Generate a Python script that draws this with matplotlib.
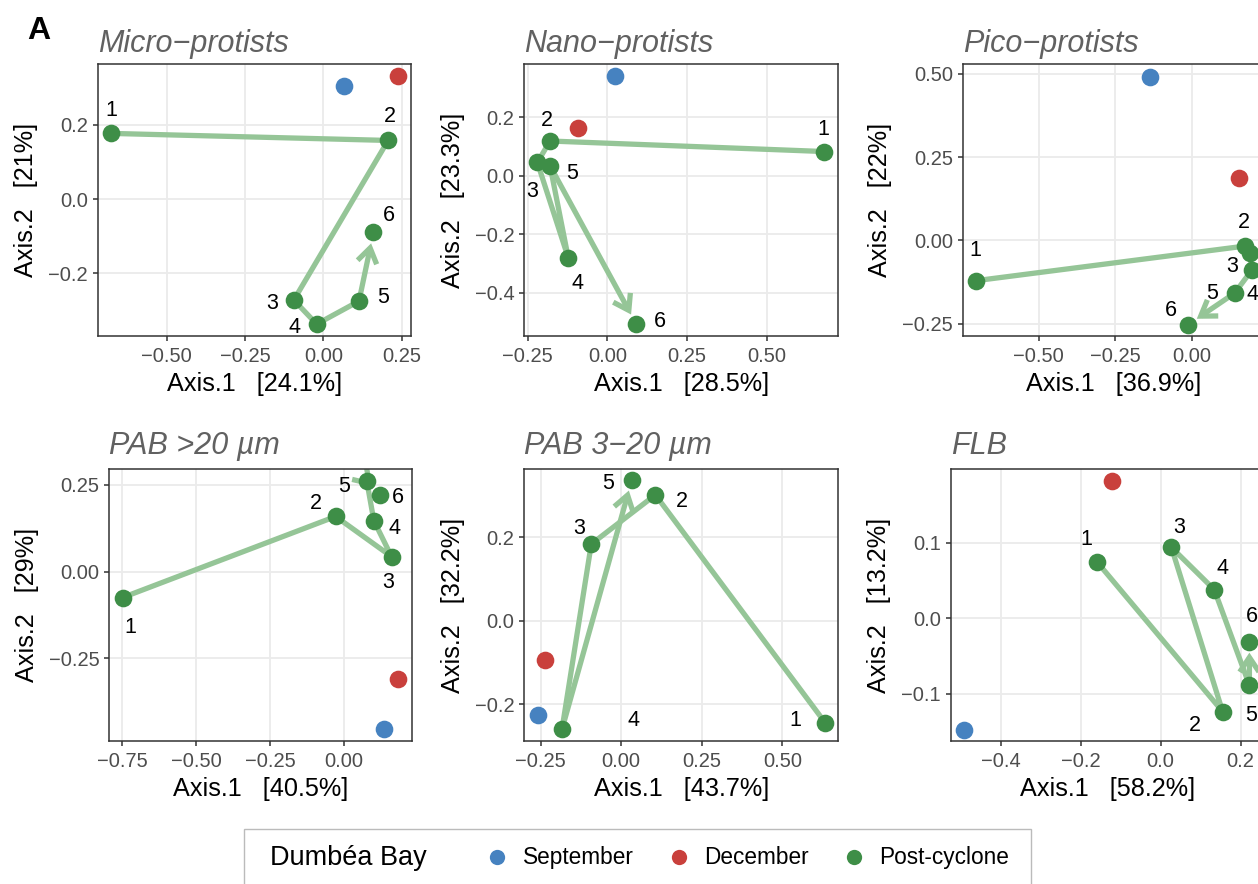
import matplotlib
matplotlib.use('Agg')
import matplotlib.pyplot as plt
from matplotlib.patches import FancyArrowPatch
from matplotlib.lines import Line2D
from matplotlib.offsetbox import HPacker, DrawingArea

plt.rcParams['font.family'] = ['Liberation Sans', 'DejaVu Sans']

# ---------------- data ----------------
titles = ["Micro\u2212protists", "Nano\u2212protists", "Pico\u2212protists",
          "PAB >20 \u00b5m", "PAB 3\u221220 \u00b5m", "FLB"]
axis1_pct = ["24.1%", "28.5%", "36.9%", "40.5%", "43.7%", "58.2%"]
axis2_pct = ["21%", "23.3%", "22%", "29%", "32.2%", "13.2%"]

# Post-cyclone trajectories (samples 1..n)
micro_x = [-0.678, 0.207, -0.094, -0.021, 0.114, 0.160]
micro_y = [0.177, 0.158, -0.272, -0.337, -0.275, -0.090]
nano_x = [0.681, -0.180, -0.220, -0.123, -0.180, 0.091]
nano_y = [0.083, 0.119, 0.046, -0.280, 0.034, -0.507]
pico_x = [-0.706, 0.174, 0.191, 0.197, 0.141, -0.013]
pico_y = [-0.121, -0.017, -0.038, -0.089, -0.158, -0.254]
pab20_x = [-0.748, -0.028, 0.161, 0.101, 0.077, 0.122]
pab20_y = [-0.075, 0.159, 0.043, 0.147, 0.262, 0.221]
pab3_x = [0.633, 0.106, -0.093, -0.184, 0.033]
pab3_y = [-0.244, 0.302, 0.184, -0.260, 0.338]
flb_x = [-0.158, 0.155, 0.027, 0.134, 0.222, 0.222]
flb_y = [0.074, -0.124, 0.094, 0.038, -0.089, -0.031]

# September and December samples, one per panel
sept_x = [0.067, 0.025, -0.136, 0.135, -0.260, -0.491]
sept_y = [0.306, 0.340, 0.492, -0.455, -0.225, -0.148]
dec_x = [0.239, -0.093, 0.155, 0.183, -0.236, -0.121]
dec_y = [0.331, 0.165, 0.188, -0.310, -0.093, 0.182]

legend_title = "Dumb\u00e9a Bay"
legend_labels = ["September", "December", "Post-cyclone"]

post_x = [micro_x, nano_x, pico_x, pab20_x, pab3_x, flb_x]
post_y = [micro_y, nano_y, pico_y, pab20_y, pab3_y, flb_y]

# ---------------- layout / style ----------------
W, H = 1258, 884
fig = plt.figure(figsize=(W / 100, H / 100), dpi=100)

# panel boxes in pixels: left, right, top, bottom
boxes = [(97.7, 411, 64, 336), (524.3, 838.3, 64.3, 336), (962.7, 1265, 64.3, 336),
         (109.3, 412.3, 469, 741), (524.3, 838.3, 469, 741), (950.7, 1265, 469, 741)]
xlims = [(-0.720, 0.280), (-0.261, 0.725), (-0.748, 0.240),
         (-0.793, 0.231), (-0.301, 0.674), (-0.525, 0.261)]
ylims = [(-0.369, 0.364), (-0.547, 0.381), (-0.287, 0.529),
         (-0.489, 0.296), (-0.288, 0.364), (-0.163, 0.198)]
xticks = [[-0.5, -0.25, 0, 0.25], [-0.25, 0, 0.25, 0.5], [-0.5, -0.25, 0],
          [-0.75, -0.5, -0.25, 0], [-0.25, 0, 0.25, 0.5], [-0.4, -0.2, 0, 0.2]]
xdec = [2, 2, 2, 2, 2, 1]
yticks = [[-0.2, 0, 0.2], [-0.4, -0.2, 0, 0.2], [-0.25, 0, 0.25, 0.5],
          [-0.25, 0, 0.25], [-0.2, 0, 0.2], [-0.1, 0, 0.1]]
ydec = [1, 1, 2, 2, 1, 1]
title_pads = [8.5, 8.5, 8.5, 11, 11, 11]

# label offsets in pixels (dx right, dy down) relative to each point
label_off = [
    [(0, -25), (2, -26), (-22, 1), (-22, 1), (24, -6), (15, -19)],
    [(-1, -24), (-3, -23), (-5, 27), (9, 24), (22, 6), (23, -5)],
    [(0, -32), (-1, -26), (-18, 11), (1, 22), (-23, -2), (-17, -17)],
    [(8, 28), (-20, -15), (-3, 24), (21, 6), (-23, 4), (18, 1)],
    [(-30, -4), (27, 5), (-12, -18), (72, -11), (-24, 2)],
    [(-11, -25), (-28, 12), (8, -22), (8, -23), (2, 28), (2, -27)],
]

c_sept = '#4682C0'
c_dec = '#C9403C'
c_post = '#3E8E47'
c_path = '#95C597'
ms = 12.7
px2pt = 0.72


def fmt(v, d):
    s = f"{v:.{d}f}"
    return s.replace('-', '\u2212')


for i in range(6):
    L, R, T, B = boxes[i]
    ax = fig.add_axes([L / W, 1 - B / H, (R - L) / W, (B - T) / H])
    ax.set_xlim(*xlims[i])
    ax.set_ylim(*ylims[i])
    ax.set_xticks(xticks[i])
    ax.set_xticklabels([fmt(v, xdec[i]) for v in xticks[i]])
    ax.set_yticks(yticks[i])
    ax.set_yticklabels([fmt(v, ydec[i]) for v in yticks[i]])
    ax.grid(True, color='#EBEBEB', lw=1.3, zorder=0)
    ax.set_axisbelow(True)
    for sp in ax.spines.values():
        sp.set_color('#333333')
        sp.set_linewidth(1.1)
    ax.tick_params(axis='both', length=3.6, width=1.1, color='#333333',
                   labelcolor='#4D4D4D', labelsize=14.5)
    ax.tick_params(axis='x', pad=4.5)
    ax.tick_params(axis='y', pad=3.5)
    ax.set_xlabel(f"Axis.1   [{axis1_pct[i]}]", fontsize=18.2, labelpad=4)
    ax.set_ylabel(f"Axis.2   [{axis2_pct[i]}]", fontsize=18.2, labelpad=7)
    ax.set_title(titles[i], loc='left', fontsize=22, style='italic',
                 color='#616161', pad=title_pads[i])

    xs, ys = post_x[i], post_y[i]
    n = len(xs)
    # path (all but last segment)
    ax.plot(xs[:n - 1], ys[:n - 1], color=c_path, lw=3.8,
            solid_capstyle='butt', solid_joinstyle='round', zorder=2)
    # last segment with open arrow
    arr = FancyArrowPatch((xs[n - 2], ys[n - 2]), (xs[n - 1], ys[n - 1]),
                          arrowstyle='->,head_length=1.05,head_width=0.7',
                          mutation_scale=10, shrinkA=0, shrinkB=8,
                          color=c_path, lw=3.8, capstyle='butt',
                          joinstyle='miter', zorder=2)
    ax.add_patch(arr)

    ax.plot([sept_x[i]], [sept_y[i]], 'o', ms=ms, color=c_sept, mec='none', zorder=3)
    ax.plot([dec_x[i]], [dec_y[i]], 'o', ms=ms, color=c_dec, mec='none', zorder=3)
    ax.plot(xs, ys, 'o', ms=ms, color=c_post, mec='none', zorder=4)

    for k in range(n):
        dx, dy = label_off[i][k]
        ax.annotate(str(k + 1), (xs[k], ys[k]),
                    xytext=(dx * px2pt, -(dy + 7.5) * px2pt),
                    textcoords='offset points', ha='center', va='baseline',
                    fontsize=15.5, color='black', zorder=5, annotation_clip=False)

fig.text(27 / W, 1 - 39 / H, 'A', fontsize=23, fontweight='bold', va='baseline')

# ---------------- legend ----------------
handles = [Line2D([], [], ls='', marker='o', ms=11, color=c, mec='none')
           for c in (c_sept, c_dec, c_post)]
leg = fig.legend(handles, legend_labels, title=legend_title, ncol=3,
                 loc='upper center', bbox_to_anchor=(637.5 / W, 1 - 829 / H),
                 frameon=True, fancybox=False, edgecolor='#AAAAAA',
                 fontsize=16.3, title_fontsize=19.5, handlelength=1.0,
                 handletextpad=0.62, columnspacing=1.5, borderpad=0.6,
                 borderaxespad=0)
leg.get_frame().set_linewidth(1.0)
old = leg._legend_box
children = old.get_children()
inner = HPacker(pad=0, sep=43, align='center', children=children)
newbox = HPacker(pad=11.5, sep=0, align='center',
                 children=[DrawingArea(7.2, 1), inner, DrawingArea(4.3, 1)])
newbox.set_figure(fig)
newbox.axes = leg.axes
newbox.set_offset(leg._findoffset)
leg._legend_box = newbox

fig.savefig('out.png', dpi=100)
